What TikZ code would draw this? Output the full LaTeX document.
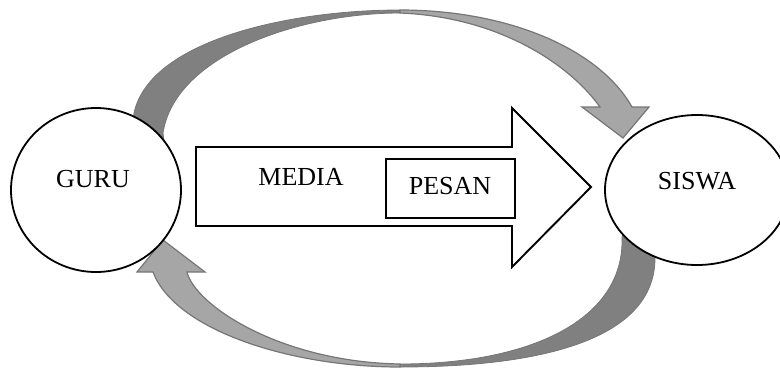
\documentclass[tikz,border=0pt]{standalone}
\usepackage{fontspec}
\setmainfont{Liberation Serif}
\usetikzlibrary{shapes.geometric}
\definecolor{darkg}{RGB}{128,128,128}
\definecolor{lightg}{RGB}{166,166,166}
\definecolor{edgeg}{RGB}{118,118,118}
\begin{document}
\begin{tikzpicture}[x=1pt,y=-1pt,
  back/.style={fill=darkg,draw=edgeg,line width=0.8pt,line join=round},
  front/.style={fill=lightg,draw=edgeg,line width=1.2pt,line join=miter},
  party/.style={ellipse,draw=black,fill=white,line width=1.8pt,inner sep=0pt},
  lbl/.style={font=\fontsize{26}{30}\selectfont,inner sep=0pt},
  blockarrow/.style={draw=black,fill=white,line width=1.9pt,line join=miter},
  msgbox/.style={draw=black,fill=white,line width=1.9pt,inner sep=0pt}]
\useasboundingbox (0,0) rectangle (780,368);
% curved arrow on top: GURU -> SISWA
\path[back] (132,140) -- (134,113) .. controls (150,40) and (290,10) .. (400,10)
  -- (400,13) .. controls (300,13) and (175,55) .. (163,133) -- (165,150) -- cycle;
\path[front] (400,10) .. controls (510,10) and (600,50) .. (632,107) -- (649,107)
  -- (623,138) -- (582,107) -- (600,107) .. controls (570,65) and (500,17) .. (400,13) -- cycle;
% curved arrow at bottom: SISWA -> GURU
\path[back] (400,367) .. controls (540,367) and (655,340) .. (655,258) -- (665,235)
  -- (627,222) -- (622,237) .. controls (625,320) and (530,364) .. (400,364) -- cycle;
\path[front] (163,240) -- (205,272) -- (187,272) .. controls (195,305) and (280,362) .. (400,364)
  -- (400,367) .. controls (290,367) and (175,330) .. (153,272) -- (137,272) -- cycle;
% the two parties
\node[party,minimum width=170pt,minimum height=164pt] (guru) at (96,190) {};
\node[party,minimum width=184pt,minimum height=150pt] (siswa) at (697,190) {};
\node[lbl] (gurutext) at (93,179) {GURU};
\node[lbl] (siswatext) at (697,181) {SISWA};
% block arrow MEDIA
\path[blockarrow] (196,147) -- (512,147) -- (512,108) -- (591,187) -- (512,267)
  -- (512,226) -- (196,226) -- cycle;
\node[lbl] (mediatext) at (301,177) {MEDIA};
\node[msgbox,minimum width=129pt,minimum height=59pt] (pesan) at (450.5,188.5) {};
\node[lbl] (pesantext) at (450,186) {PESAN};
\end{tikzpicture}
\end{document}
